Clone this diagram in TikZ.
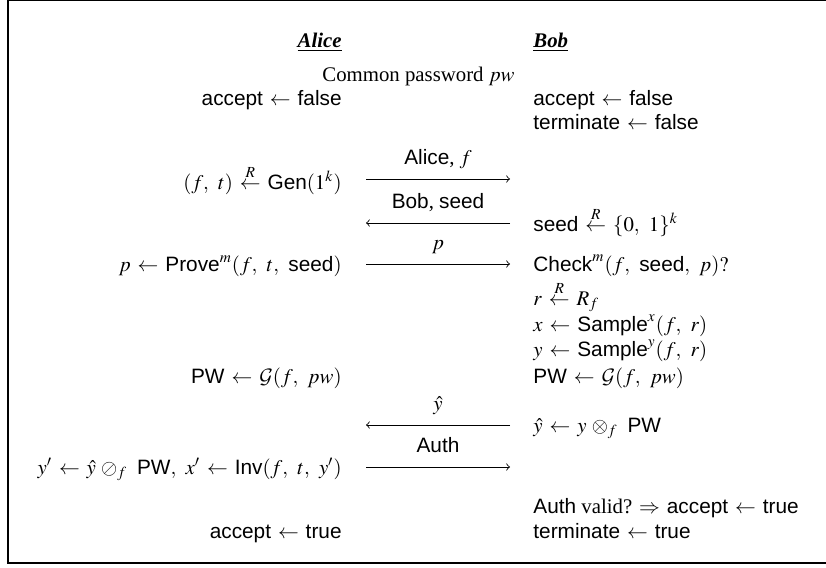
\documentclass[tikz,border=0pt]{standalone}
\usepackage{mathptmx}
\usepackage[no-math]{fontspec}
\setmainfont{Liberation Serif}
\setsansfont{Liberation Sans}
\DeclareMathAlphabet{\mathcal}{OMS}{cmsy}{m}{n}
\newcommand{\alg}[1]{\textsf{#1}}
\newcommand{\rnd}{\stackrel{R}{\leftarrow}}
\thickmuskip=6mu plus 5mu
\begin{document}
\begin{tikzpicture}[x=0.4808pt,y=-0.4808pt]
	\tikzset{lft/.style={anchor=base east,inner sep=0pt},rgt/.style={anchor=base west,inner sep=0pt},msg/.style={above,inner sep=0pt,text depth=7pt}}
	\useasboundingbox(0,0)rectangle(826,567);
	\clip(0,0)rectangle(826,567);
	\draw[line width=1pt](8,0.4)rectangle(840,563);
	% parties
	\node(A0)at(342,47)[lft]{\underline{\textbf{\textit{Alice}}}};
	\node(B0)at(533,47)[rgt]{\underline{\textbf{\textit{Bob}}}};
	\node(pw)at(418.5,81)[anchor=base,inner sep=0pt]{Common password $pw$};
	% Alice
	\node(A1)at(342,105)[lft]{$\alg{accept}\leftarrow\alg{false}$};
	\node(A2)at(342,189)[lft]{$(f,\;t)\rnd\alg{Gen}(1^k)$};
	\node(A3)at(342,271)[lft]{$p\leftarrow\alg{Prove}^m(f,\;t,\;\alg{seed})$};
	\node(A4)at(342,383)[lft]{$\alg{PW}\leftarrow\mathcal{G}(f,\;pw)$};
	\node(A5)at(342,474)[lft]{$y'\leftarrow\hat{y}\,\oslash_f\;\alg{PW},\;x'\leftarrow\alg{Inv}(f,\;t,\;y')$};
	\node(A6)at(342,538)[lft]{$\alg{accept}\leftarrow\alg{true}$};
	% Bob
	\node(B1)at(533,105)[rgt]{$\alg{accept}\leftarrow\alg{false}$};
	\node(B2)at(533,129)[rgt]{$\alg{terminate}\leftarrow\alg{false}$};
	\node(B3)at(533,231)[rgt]{$\alg{seed}\rnd\{0,\;1\}^k$};
	\node(B4)at(533,271)[rgt]{$\alg{Check}^m(f,\;\alg{seed},\;p)?$};
	\node(B5)at(533,305)[rgt]{$r\rnd R_f$};
	\node(B6)at(533,331)[rgt]{$x\leftarrow\alg{Sample}^x(f,\;r)$};
	\node(B7)at(533,356)[rgt]{$y\leftarrow\alg{Sample}^y(f,\;r)$};
	\node(B8)at(533,383)[rgt]{$\alg{PW}\leftarrow\mathcal{G}(f,\;pw)$};
	\node(B9)at(533,432)[rgt]{$\hat{y}\leftarrow y\,\otimes_f\;\alg{PW}$};
	\node(B10)at(533,513)[rgt]{\alg{Auth} valid? $\Rightarrow\alg{accept}\leftarrow\alg{true}$};
	\node(B11)at(533,538)[rgt]{$\alg{terminate}\leftarrow\alg{true}$};
	% messages
	\coordinate(m1a)at(366,179);\coordinate(m1b)at(510,179);
	\coordinate(m2a)at(366,223);\coordinate(m2b)at(510,223);
	\coordinate(m3a)at(366,264);\coordinate(m3b)at(510,264);
	\coordinate(m4a)at(366,425);\coordinate(m4b)at(510,425);
	\coordinate(m5a)at(366,467);\coordinate(m5b)at(510,467);
	\tikzset{every path/.style={->}}
	\draw(m1a)--node[msg]{\alg{Alice}, $f$}(m1b);
	\draw(m2b)--node[msg]{\alg{Bob}, \alg{seed}}(m2a);
	\draw(m3a)--node[msg]{$p$}(m3b);
	\draw(m4b)--node[msg]{$\hat{y}$}(m4a);
	\draw(m5a)--node[msg]{\alg{Auth}}(m5b);
\end{tikzpicture}
\end{document}
